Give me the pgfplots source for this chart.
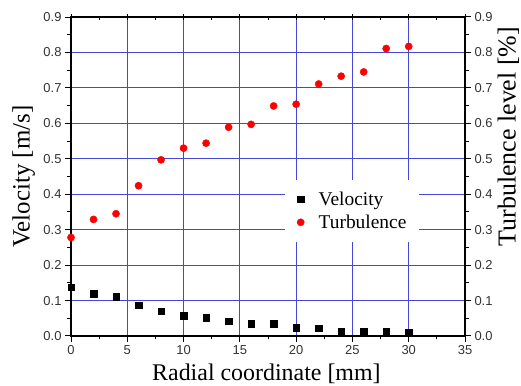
\documentclass[border=0pt]{standalone}
\usepackage{pgfplots}
\pgfplotsset{compat=1.18}
\usepackage{fontspec}
\setmainfont{Liberation Serif}
\setsansfont{Liberation Sans}
\definecolor{gridblue}{RGB}{70,70,215}
\definecolor{ticklab}{RGB}{50,50,50}
\begin{document}
\begin{tikzpicture}
\begin{axis}[name=ax,
  scale only axis, width=394bp, height=319bp,
  xmin=0, xmax=35, ymin=0, ymax=0.9,
  xtick={0,5,...,35}, ytick={0,0.1,...,0.9},
  minor x tick num=1, minor y tick num=1,
  xtick pos=bottom, ytick pos=left,
  tick align=outside, major tick length=6bp, minor tick length=3.5bp,
  tick style={black, line width=1bp},
  axis line style={black, line width=1.3bp},
  grid=major, major grid style={gridblue, line width=0.8bp},
  tick label style={font=\sffamily\fontsize{13}{13}\selectfont, text=ticklab},
  yticklabel style={/pgf/number format/.cd, fixed, fixed zerofill, precision=1, assume math mode=true},
  xticklabel style={/pgf/number format/assume math mode=true},
  xlabel={Radial coordinate [mm]},
  ylabel={Velocity [m/s]},
  xlabel style={font=\fontsize{24}{24}\selectfont, at={(axis description cs:0.496,-0.12)}, anchor=center},
  ylabel style={font=\fontsize{25}{25}\selectfont, at={(axis description cs:-0.12,0.5)}, anchor=center},
  legend cell align=left,
  legend image code/.code={\node[inner sep=0pt, minimum width=20.5bp, minimum height=6bp] at (10.25bp,0bp) {}; \draw[#1] plot coordinates {(15bp,0bp)};},
  legend style={at={(axis description cs:0.543,0.49)}, anchor=north west, draw=none, fill=white,
    font=\fontsize{19.5}{19.5}\selectfont, inner xsep=11bp, inner ysep=10bp, row sep=4bp},
]
\addplot[only marks, mark=square*, mark size=3.3bp, mark options={fill=black, draw=black}] coordinates {
(0,0.138) (2,0.120) (4,0.111) (6,0.087) (8,0.070) (10,0.058) (12,0.052) (14,0.042)
(16,0.034) (18,0.034) (20,0.024) (22,0.022) (24,0.014) (26,0.014) (28,0.014) (30,0.011)
};
\addlegendentry{Velocity}
\addplot[only marks, mark=*, mark size=3.6bp, mark options={fill=red, draw=red}] coordinates {
(0,0.278) (2,0.329) (4,0.345) (6,0.424) (8,0.497) (10,0.530) (12,0.544) (14,0.589)
(16,0.597) (18,0.649) (20,0.654) (22,0.711) (24,0.733) (26,0.745) (28,0.811) (30,0.817)
};
\addlegendentry{Turbulence}
\end{axis}
\begin{axis}[
  scale only axis, width=394bp, height=319bp,
  xmin=0, xmax=35, ymin=0, ymax=0.9,
  axis y line*=right, axis x line*=top,
  xtick={0,5,...,35}, ytick={0,0.1,...,0.9},
  minor x tick num=1, minor y tick num=1,
  xticklabels={},
  tick align=outside, major tick length=6bp, minor tick length=3.5bp,
  tick style={black, line width=1bp},
  major x tick style={yshift=-3.5bp},
  minor x tick style={yshift=-3.5bp},
  axis line style={black, line width=1.3bp},
  tick label style={font=\sffamily\fontsize{13}{13}\selectfont, text=ticklab},
  yticklabel style={/pgf/number format/.cd, fixed, fixed zerofill, precision=1, assume math mode=true},
  ylabel={Turbulence level [\%]},
  ylabel style={font=\fontsize{26}{26}\selectfont, at={(axis description cs:1.11,0.625)}, anchor=center},
]
\end{axis}
\pgfresetboundingbox
\path[use as bounding box] ([xshift=-71bp,yshift=-50bp]ax.south west) rectangle ([xshift=56bp,yshift=17bp]ax.north east);
\end{tikzpicture}
\end{document}
